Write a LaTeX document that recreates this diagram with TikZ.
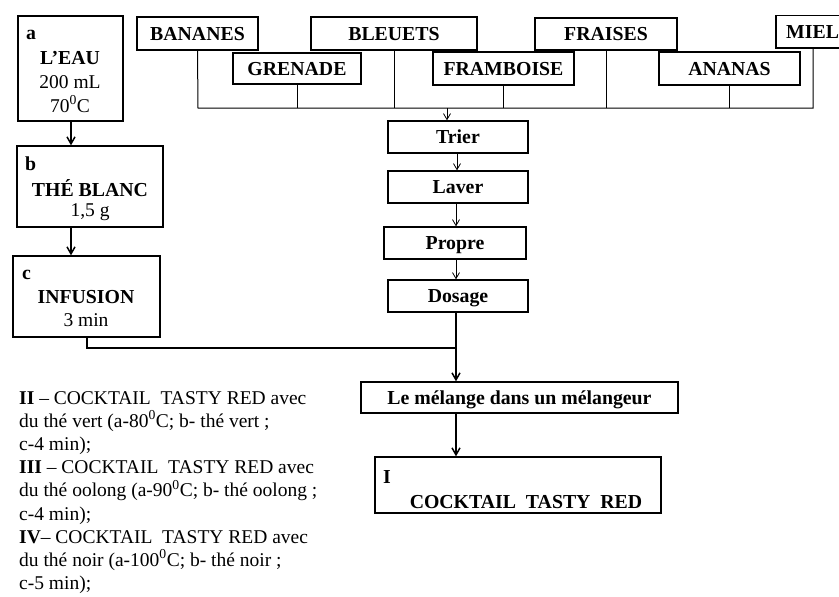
\documentclass[tikz,border=0pt]{standalone}
\usepackage{fontspec}
\setmainfont{Liberation Serif}
\usetikzlibrary{arrows.meta}
\tikzset{
  box/.style={draw, line width=1.3pt, inner sep=0pt, text height=13pt, text depth=0pt, font=\fontsize{19.8}{23}\selectfont\bfseries},
  thinarrow/.style={line width=0.8pt, -{Straight Barb[length=6pt,width=7pt,line width=0.8pt]}},
  thickarrow/.style={line width=1.5pt, -{Straight Barb[length=7pt,width=8pt,line width=1.5pt]}},
  thinline/.style={line width=1pt},
  thickline/.style={line width=1.5pt},
  txt/.style={inner sep=0pt, font=\fontsize{19.5}{23}\selectfont},
  btxt/.style={inner sep=0pt, font=\fontsize{19.8}{23}\selectfont\bfseries},
}
\begin{document}
\begin{tikzpicture}[x=1pt,y=-1pt]
\useasboundingbox (0,0) rectangle (839,597);
% left column
\node[box, minimum width=105pt, minimum height=105pt] (a) at (70.5,68.5) {};
\node[btxt, anchor=west] (ta) at (26,35) {a};
\node[btxt] (ta1) at (70,58) {L’EAU};
\node[txt] (ta2) at (70,82) {200 mL};
\node[txt] (ta3) at (70,104) {70\textsuperscript{0}C};

\node[box, minimum width=146pt, minimum height=81pt] (b) at (90,186.5) {};
\node[btxt, anchor=west] (tb) at (25,164) {b};
\node[btxt] (tb1) at (90,188) {THÉ BLANC};
\node[txt] (tb2) at (90,212) {1,5 g};

\node[box, minimum width=147pt, minimum height=81pt] (c) at (86.5,296.5) {};
\node[btxt, anchor=west] (tc) at (22,275) {c};
\node[btxt] (tc1) at (86,297) {INFUSION};
\node[txt] (tc2) at (86,320) {3 min};

\draw[thickarrow] (a.south -| 71,0) -- (b.north -| 71,0);
\draw[thickarrow] (b.south -| 71,0) -- (c.north -| 71,0);

% fruits
\node[box, minimum width=121pt, minimum height=33pt] (ban) at (197.5,33.5) {BANANES};
\node[box, minimum width=128pt, minimum height=31pt] (gre) at (297,68.5) {GRENADE};
\node[box, minimum width=166pt, minimum height=33pt] (ble) at (394,33.5) {BLEUETS};
\node[box, minimum width=141pt, minimum height=33pt] (fra) at (503.5,68.5) {FRAMBOISE};
\node[box, minimum width=142pt, minimum height=32pt] (fre) at (606,34) {FRAISES};
\node[box, minimum width=141pt, minimum height=33pt] (ana) at (729.5,68.5) {ANANAS};
\draw[line width=1.3pt] (845,15.5) -- (776,15.5) -- (776,48) -- (845,48);
\node[btxt, anchor=west] (miel) at (786,32) {MIEL};
\coordinate (mielc) at (813,48);

\coordinate (jl) at (198,108);
\coordinate (jr) at (813,108);
\draw[thinline] (ban.south) -- (jl) -- (jr) -- (mielc);
\draw[thinline] (gre.south) -- (gre.south |- jl);
\draw[thinline] (ble.south) -- (ble.south |- jl);
\draw[thinline] (fra.south) -- (fra.south |- jl);
\draw[thinline] (fre.south) -- (fre.south |- jl);
\draw[thinline] (ana.south) -- (ana.south |- jl);

% processing
\node[box, minimum width=140pt, minimum height=32pt] (tri) at (458,137) {Trier};
\node[box, minimum width=140pt, minimum height=32pt] (lav) at (458,187) {Laver};
\node[box, minimum width=142pt, minimum height=32pt] (pro) at (455,243) {Propre};
\node[box, minimum width=140pt, minimum height=32pt] (dos) at (458,296) {Dosage};
\coordinate (jt) at (447,108);
\draw[thinarrow] (jt) -- (tri.north -| jt);
\draw[thinarrow] (tri.south -| 457,0) -- (lav.north -| 457,0);
\draw[thinarrow] (lav.south -| 456,0) -- (pro.north -| 456,0);
\draw[thinarrow] (pro.south -| 456,0) -- (dos.north -| 456,0);

\node[box, minimum width=317pt, minimum height=31pt] (mel) at (519.5,397.5) {Le mélange dans un mélangeur};
\node[box, minimum width=286pt, minimum height=56pt] (res) at (518,485) {};
\node[btxt, anchor=west] (ti) at (383,477) {I};
\node[btxt] (ti1) at (526,502) {COCKTAIL\ \ TASTY\ \ RED};

\coordinate (jm) at (456,348);
\draw[thickline] (c.south -| 87,0) -- (87,348) -- (jm);
\draw[thickline] (dos.south -| jm) -- (jm);
\draw[thickarrow] (jm) -- (mel.north -| jm);
\draw[thickarrow] (mel.south -| jm) -- (res.north -| jm);

% notes
\node[txt, anchor=north west, align=left, font=\fontsize{19.5}{23.2}\selectfont] (notes) at (19,391) {%
\textbf{II} – COCKTAIL\ \ TASTY RED avec\\
du thé vert (a-80\textsuperscript{0}C; b- thé vert ;\\
c-4 min);\\
\textbf{III} – COCKTAIL\ \ TASTY RED avec\\
du thé oolong (a-90\textsuperscript{0}C; b- thé oolong ;\\
c-4 min);\\
\textbf{IV}– COCKTAIL\ \ TASTY RED avec\\
du thé noir (a-100\textsuperscript{0}C; b- thé noir ;\\
c-5 min);};
\end{tikzpicture}
\end{document}
